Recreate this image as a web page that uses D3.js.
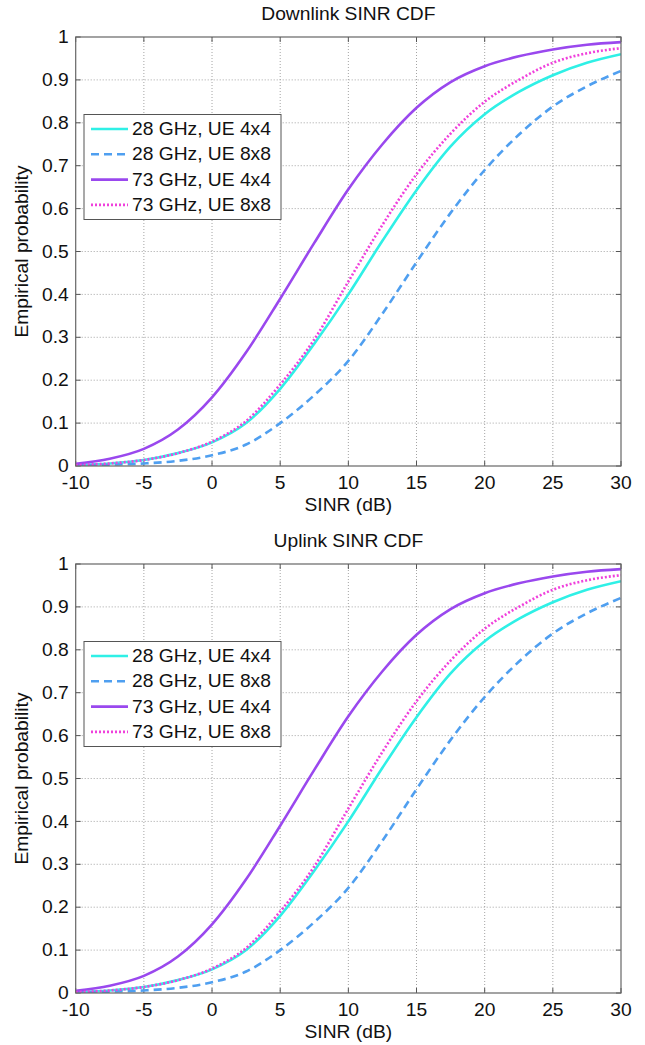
<!DOCTYPE html>
<html><head><meta charset="utf-8">
<script src="https://cdn.jsdelivr.net/npm/d3@7"></script>
<style>
body{margin:0;background:#fff}
svg{display:block}
text{font-family:"Liberation Sans",Arial,sans-serif;fill:#111}
</style>
</head><body>
<svg id="c" width="645" height="1045"></svg>
<script>
// ---- data ----
const sinr = [-10,-7.5,-5,-2.5,0,2.5,5,7.5,10,12.5,15,17.5,20,22.5,25,27.5,30];
const xTicks = [-10,-5,0,5,10,15,20,25,30];
const xTickLabels = ["-10","-5","0","5","10","15","20","25","30"];
const yTicks = [0,0.1,0.2,0.3,0.4,0.5,0.6,0.7,0.8,0.9,1];
const yTickLabels = ["0","0.1","0.2","0.3","0.4","0.5","0.6","0.7","0.8","0.9","1"];
const seriesNames = ["28 GHz, UE 4x4","28 GHz, UE 8x8","73 GHz, UE 4x4","73 GHz, UE 8x8"];
const panelTitles = ["Downlink SINR CDF","Uplink SINR CDF"];

// Downlink
const dl_28_4x4 = [0.002,0.006,0.014,0.030,0.055,0.100,0.180,0.285,0.400,0.525,0.643,0.745,0.820,0.872,0.911,0.940,0.960];
const dl_28_8x8 = [0.001,0.003,0.006,0.012,0.025,0.050,0.100,0.165,0.245,0.355,0.475,0.590,0.690,0.772,0.838,0.885,0.921];
const dl_73_4x4 = [0.005,0.017,0.040,0.085,0.160,0.265,0.390,0.520,0.645,0.750,0.835,0.895,0.932,0.955,0.971,0.982,0.988];
const dl_73_8x8 = [0.002,0.006,0.014,0.030,0.057,0.105,0.190,0.295,0.430,0.562,0.680,0.775,0.849,0.900,0.940,0.962,0.974];
// Uplink
const ul_28_4x4 = [0.002,0.006,0.014,0.030,0.055,0.100,0.180,0.285,0.400,0.525,0.643,0.745,0.820,0.872,0.911,0.940,0.960];
const ul_28_8x8 = [0.001,0.003,0.006,0.012,0.025,0.050,0.100,0.165,0.245,0.355,0.475,0.590,0.690,0.772,0.838,0.885,0.921];
const ul_73_4x4 = [0.005,0.017,0.040,0.085,0.160,0.265,0.390,0.520,0.645,0.750,0.835,0.895,0.932,0.955,0.971,0.982,0.988];
const ul_73_8x8 = [0.002,0.006,0.014,0.030,0.057,0.105,0.190,0.295,0.430,0.562,0.680,0.775,0.849,0.900,0.940,0.962,0.974];

// ---- styles ----
const styles = [
  {color:"#2ff0e6", dash:null, width:2.6},
  {color:"#4f9ff0", dash:"8,5", width:2.6},
  {color:"#9a48ee", dash:null, width:2.6},
  {color:"#f040dc", dash:"2,2", width:2.6}
];

const svg = d3.select("#c");
const X0 = 75.7, X1 = 621;
const panels = [
  {top:37, bottom:466, title:panelTitles[0], data:[dl_28_4x4,dl_28_8x8,dl_73_4x4,dl_73_8x8]},
  {top:564, bottom:993, title:panelTitles[1], data:[ul_28_4x4,ul_28_8x8,ul_73_4x4,ul_73_8x8]}
];
const FS = 17.5, SX = 1.1;

function txt(g, x, y, s, anchor, rot){
  const t = g.append("g").attr("transform", `translate(${x},${y})` + (rot?` rotate(${rot})`:"") + ` scale(${SX},1)`);
  t.append("text").attr("text-anchor", anchor||"middle").attr("font-size", FS).attr("dominant-baseline","central").text(s);
}

panels.forEach(p => {
  const x = d3.scaleLinear().domain([-10,30]).range([X0,X1]);
  const y = d3.scaleLinear().domain([0,1]).range([p.bottom,p.top]);
  const g = svg.append("g");

  // grid
  g.selectAll(".gx").data(xTicks.slice(1,-1)).enter().append("line")
    .attr("x1",d=>x(d)).attr("x2",d=>x(d)).attr("y1",p.top).attr("y2",p.bottom)
    .attr("stroke","#9a9a9a").attr("stroke-width",0.9).attr("stroke-dasharray","1,2");
  g.selectAll(".gy").data(yTicks.slice(1,-1)).enter().append("line")
    .attr("y1",d=>y(d)).attr("y2",d=>y(d)).attr("x1",X0).attr("x2",X1)
    .attr("stroke","#9a9a9a").attr("stroke-width",0.9).attr("stroke-dasharray","1,2");

  // ticks (inward, all sides)
  const tl = 5;
  xTicks.forEach(d=>{
    g.append("line").attr("x1",x(d)).attr("x2",x(d)).attr("y1",p.bottom).attr("y2",p.bottom-tl).attr("stroke","#555");
    g.append("line").attr("x1",x(d)).attr("x2",x(d)).attr("y1",p.top).attr("y2",p.top+tl).attr("stroke","#555");
  });
  yTicks.forEach(d=>{
    g.append("line").attr("y1",y(d)).attr("y2",y(d)).attr("x1",X0).attr("x2",X0+tl).attr("stroke","#555");
    g.append("line").attr("y1",y(d)).attr("y2",y(d)).attr("x1",X1).attr("x2",X1-tl).attr("stroke","#555");
  });

  // curves
  const line = d3.line().x((d,i)=>x(sinr[i])).y(d=>y(d)).curve(d3.curveMonotoneX);
  const clipId = "clip"+p.top;
  svg.append("clipPath").attr("id",clipId).append("rect").attr("x",X0).attr("y",p.top-2).attr("width",X1-X0).attr("height",p.bottom-p.top+2);
  p.data.forEach((arr,k)=>{
    const st = styles[k];
    g.append("path").attr("d",line(arr)).attr("fill","none").attr("clip-path",`url(#${clipId})`)
      .attr("stroke",st.color).attr("stroke-width",st.width).attr("stroke-dasharray",st.dash);
  });

  // frame
  g.append("rect").attr("x",X0).attr("y",p.top).attr("width",X1-X0).attr("height",p.bottom-p.top)
    .attr("fill","none").attr("stroke","#666").attr("stroke-width",1.2);

  // tick labels
  xTicks.forEach((d,i)=> txt(g, x(d), p.bottom+17, xTickLabels[i], "middle"));
  yTicks.forEach((d,i)=> txt(g, X0-7, y(d), yTickLabels[i], "end"));

  // axis labels & title
  txt(g, (X0+X1)/2, p.bottom+39, "SINR (dB)", "middle");
  txt(g, 22, (p.top+p.bottom)/2, "Empirical probability", "middle", -90);
  txt(g, (X0+X1)/2, p.top-23, p.title, "middle");

  // legend
  const lx = 84, ly = p.top+77.5, lw = 197, lh = 105;
  const lg = g.append("g");
  lg.append("rect").attr("x",lx).attr("y",ly).attr("width",lw).attr("height",lh)
    .attr("fill","#fff").attr("stroke","#555").attr("stroke-width",1);
  seriesNames.forEach((nm,k)=>{
    const cy = ly + 14.5 + k*25.3;
    const st = styles[k];
    lg.append("line").attr("x1",lx+7).attr("x2",lx+44).attr("y1",cy).attr("y2",cy)
      .attr("stroke",st.color).attr("stroke-width",st.width).attr("stroke-dasharray",st.dash);
    txt(lg, lx+48, cy, nm, "start");
  });
});
</script>
</body></html>
